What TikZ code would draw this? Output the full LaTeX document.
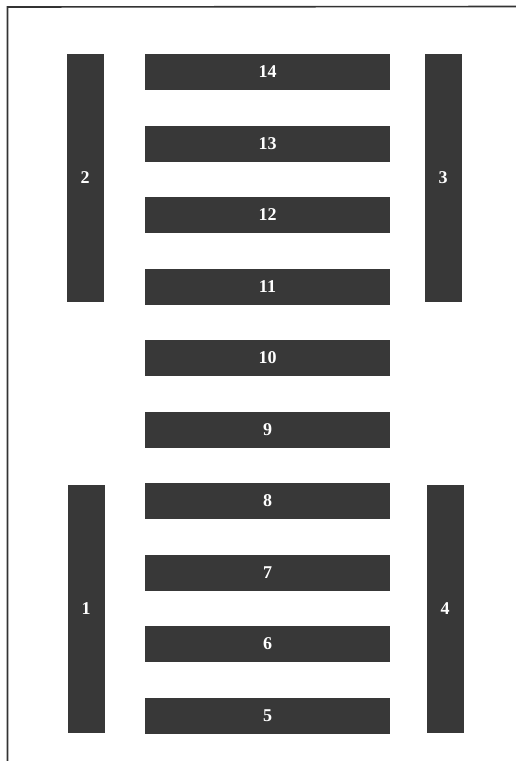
\documentclass[tikz,border=0pt]{standalone}
\usepackage{fontspec}
\setmainfont{Liberation Serif}
\begin{document}
\begin{tikzpicture}[x=1pt,y=-1pt,
  bay/.style={fill=black!78,draw=none,inner sep=0pt,text=white,
    font=\bfseries\fontsize{18}{18}\selectfont},
  row/.style={bay,minimum width=245pt,minimum height=36pt},
  post/.style={bay,minimum width=37pt,minimum height=248pt}]
  \useasboundingbox[fill=white] (0,0) rectangle (516,761);
  \draw[line width=1.6pt,black!80] (7.5,761) -- (7.5,7) -- (516,6.5);
  % side posts
  \node[post] (p2) at (85,178) {2};
  \node[post] (p3) at (443,178) {3};
  \node[post] (p1) at (86,608.5) {1};
  \node[post] (p4) at (445,608.5) {4};
  % rows 14 down to 5
  \foreach \n in {5,...,14}
    \node[row] (r\n) at (267.5,{72+(14-\n)*71.5}) {\n};
\end{tikzpicture}
\end{document}
